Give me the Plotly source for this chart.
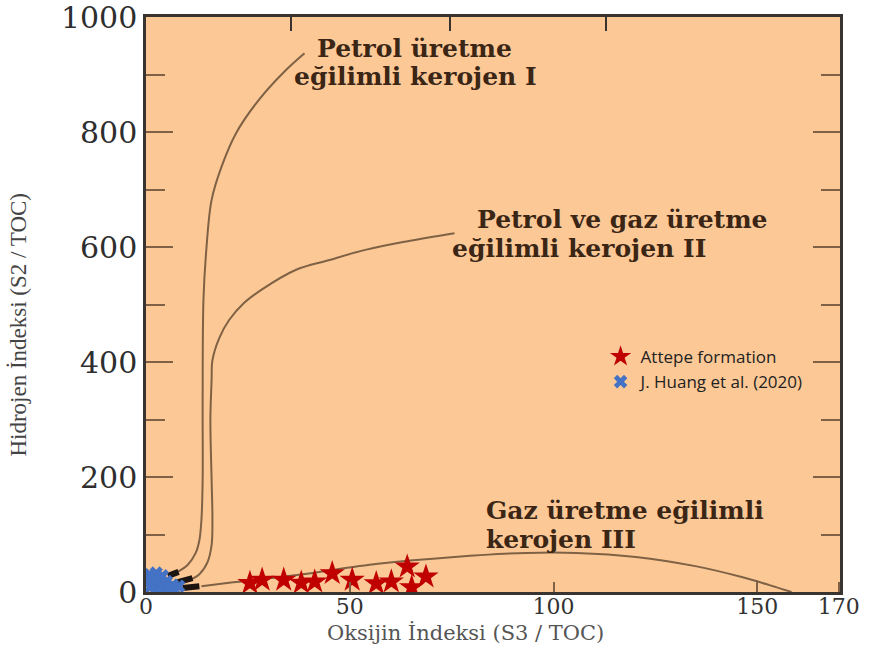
import plotly.graph_objects as go

# Kerogen type boundary curves (Oxygen Index, Hydrogen Index)
type1_oi = [7.8, 10.2, 12.2, 13.1, 13.6, 13.9, 13.9, 14.1, 14.8, 16.1, 18.5, 22.1, 27.7, 33.8, 38.9]
type1_hi = [35, 47, 68, 90, 125, 195, 334, 508, 595, 682, 739, 798, 856, 904, 937]

type2_oi = [10.7, 13.1, 15.1, 16.1, 16.3, 16.1, 15.8, 16.1, 16.3, 18.0, 20.4, 24.1, 28.2, 36.7, 44.8, 53.8, 64.2, 75.7]
type2_hi = [21, 31, 52, 82, 125, 195, 299, 369, 403, 442, 473, 503, 525, 560, 577, 595, 610, 624]

type3_oi = [13.6, 20.4, 37.5, 56.9, 75.7, 93.4, 105.6, 120.2, 134.8, 146.2, 153.0, 158.4]
type3_hi = [10, 16, 30, 49, 61, 68, 68, 61, 45, 26, 12, 0]

# Dark maturation segments at the start of each path
seg1_oi, seg1_hi = [5.4, 8.0], [28, 35]
seg2_oi, seg2_hi = [7.8, 11.4], [17, 24]
seg3_oi, seg3_hi = [9.0, 13.1], [7, 10]

# Samples
attepe_oi = [25.5, 28.5, 33.8, 38.1, 41.4, 45.7, 50.6, 56.5, 60.2, 64.1, 65.2, 68.7]
attepe_hi = [15.5, 21, 21, 16, 18, 32.5, 21, 15, 18, 44, 8, 26.6]

huang_oi = [1.0, 2.5, 4.0, 1.5, 3.0, 5.0, 6.5, 1.0, 2.5, 4.5, 7.0, 0.5, 3.5, 5.5, 8.0]
huang_hi = [30, 33, 28, 20, 15, 18, 12, 8, 5, 6, 4, 25, 24, 8, 10]

x_ticks = [0, 50, 100, 150, 170]
y_ticks = [0, 200, 400, 600, 800, 1000]
top_ticks = [35.5, 74.7, 112.9]

x_title = "Oksijin İndeksi (S3 / TOC)"
y_title = "Hidrojen İndeksi (S2 / TOC)"

labels = [
    ("Petrol üretme", 41.4, 946),
    ("eğilimli kerojen I", 35.8, 896),
    ("Petrol ve gaz üretme", 80.8, 647),
    ("eğilimli kerojen II", 74.5, 598),
    ("Gaz üretme eğilimli", 83.0, 141),
    ("kerojen III", 83.0, 92),
]

CURVE = "#7f6145"
BG = "#fcc996"

fig = go.Figure()
for xs, ys in [(type1_oi, type1_hi), (type2_oi, type2_hi), (type3_oi, type3_hi)]:
    fig.add_trace(go.Scatter(x=xs, y=ys, mode="lines", line=dict(color=CURVE, width=2, shape="spline"),
                             showlegend=False, hoverinfo="skip"))
for xs, ys in [(seg1_oi, seg1_hi), (seg2_oi, seg2_hi), (seg3_oi, seg3_hi)]:
    fig.add_trace(go.Scatter(x=xs, y=ys, mode="lines", line=dict(color="#1c1410", width=6),
                             showlegend=False, hoverinfo="skip"))

fig.add_trace(go.Scatter(x=attepe_oi, y=attepe_hi, mode="markers", name="Attepe formation",
                         marker=dict(symbol="star", size=19, color="#c00000", line=dict(width=0))))
fig.add_trace(go.Scatter(x=huang_oi, y=huang_hi, mode="markers", name="J. Huang et al. (2020)",
                         marker=dict(symbol="x", size=12, color="#4472c4", line=dict(width=0))))
# invisible point so the top tick axis is drawn
fig.add_trace(go.Scatter(x=[0], y=[0], xaxis="x2", mode="markers", marker=dict(opacity=0),
                         showlegend=False, hoverinfo="skip"))

for text, x, y in labels:
    fig.add_annotation(x=x, y=y, text=text, showarrow=False, xanchor="left", yanchor="middle",
                       font=dict(family="DejaVu Serif", size=25, color="#3b2616", weight="bold"))

# axis titles
fig.add_annotation(xref="paper", yref="paper", x=0.46, y=-0.071, text=x_title, showarrow=False,
                   xanchor="center", yanchor="middle",
                   font=dict(family="DejaVu Serif", size=21, color="#555555"))
fig.add_annotation(xref="paper", yref="paper", x=-0.183, y=0.465, text=y_title, showarrow=False,
                   textangle=-90, xanchor="center", yanchor="middle",
                   font=dict(family="Liberation Serif", size=23, color="#444444"))

fig.update_layout(
    width=877, height=648,
    margin=dict(l=146, r=37, t=17, b=56),
    paper_bgcolor="white",
    plot_bgcolor=BG,
    xaxis=dict(range=[0, 170.3], tickvals=x_ticks, ticks="inside", ticklen=10, tickwidth=1.5,
               tickcolor=CURVE, showgrid=False, zeroline=False, showline=True, linewidth=2.5,
               linecolor="#3a3430", mirror=True, automargin=False, ticklabeloverflow="allow",
               ticklabelstandoff=-7,
               tickfont=dict(family="DejaVu Serif", size=22, color="#333333")),
    xaxis2=dict(overlaying="x", side="top", range=[0, 170.3], tickvals=top_ticks, ticks="inside",
                ticklen=14, tickwidth=1.5, tickcolor="#3a3430", showticklabels=False,
                showgrid=False, zeroline=False, showline=False, automargin=False),
    yaxis=dict(range=[0, 1000], tickvals=y_ticks, ticks="inside", ticklen=27, tickwidth=2,
               tickcolor=CURVE, showgrid=False, zeroline=False, showline=True, linewidth=2.5,
               linecolor="#3a3430", mirror="ticks", automargin=False, ticklabeloverflow="allow",
               minor=dict(dtick=100, ticks="inside", ticklen=19, tickwidth=2, tickcolor=CURVE),
               tickfont=dict(family="DejaVu Serif", size=30, color="#2e2e2e")),
    legend=dict(x=0.655, y=0.44, xanchor="left", yanchor="top", bgcolor="rgba(0,0,0,0)",
                font=dict(family="Open Sans", size=17, color="#222222"), tracegroupgap=0),
    showlegend=True,
)

fig.write_html("out.html")
